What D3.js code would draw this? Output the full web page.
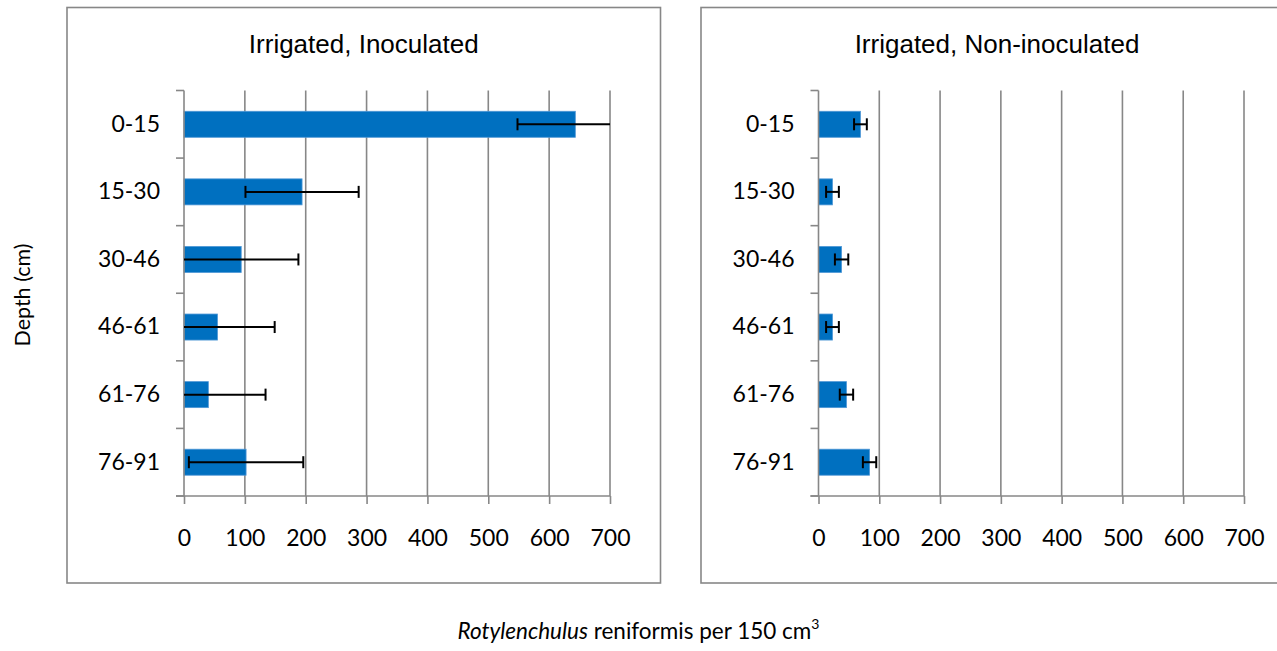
<!DOCTYPE html>
<html>
<head>
<meta charset="utf-8">
<script src="https://cdn.jsdelivr.net/npm/d3@7"></script>
<style>
  html, body { margin: 0; padding: 0; background: #ffffff; }
  svg { display: block; }
  .tick text { font-family: Lato, "Open Sans", sans-serif; font-size: 23px; fill: #000; }
</style>
</head>
<body>
<svg id="chart" width="1277" height="651"></svg>
<script>
// Soil depth classes (cm), top to bottom
const depths = ["0-15", "15-30", "30-46", "46-61", "61-76", "76-91"];

// Irrigated, inoculated plots: mean counts and error half-widths
const inoculatedMeans  = [643, 194, 94, 55, 40, 102];
const inoculatedErrors = [95, 93, 94, 94, 94, 94];

// Irrigated, non-inoculated plots: mean counts and error half-widths
const nonInoculatedMeans  = [69, 23, 38, 23, 46, 84];
const nonInoculatedErrors = [10.5, 10.5, 11, 10.5, 11, 11];

// Count axis
const countTicks = [0, 100, 200, 300, 400, 500, 600, 700];
const countMax = 700;

const panelTitles = ["Irrigated, Inoculated", "Irrigated, Non-inoculated"];

const svg = d3.select("#chart");
const gridColor = "#878787";
const barColor = "#0070C0";

const panels = [
  { title: panelTitles[0], means: inoculatedMeans, errors: inoculatedErrors,
    frame: [67, 7.5, 660.5, 583], plotX: [184, 610] },
  { title: panelTitles[1], means: nonInoculatedMeans, errors: nonInoculatedErrors,
    frame: [701, 7.5, 1293, 583], plotX: [818.5, 1244] }
];
const plotY = [90.5, 496];

panels.forEach(p => {
  const [fx0, fy0, fx1, fy1] = p.frame;
  // panel frame
  svg.append("rect")
    .attr("x", fx0).attr("y", fy0)
    .attr("width", fx1 - fx0).attr("height", fy1 - fy0)
    .attr("fill", "#fff").attr("stroke", gridColor).attr("stroke-width", 1.6);

  const x = d3.scaleLinear().domain([0, countMax]).range(p.plotX);
  const yBand = d3.scaleBand().domain(depths).range(plotY)
    .paddingInner(0.615).paddingOuter(0.3075);
  const step = yBand.step();

  const g = svg.append("g");

  // vertical gridlines
  g.selectAll("line.grid").data(countTicks.filter(t => t > 0)).join("line")
    .attr("class", "grid")
    .attr("x1", d => x(d)).attr("x2", d => x(d))
    .attr("y1", plotY[0]).attr("y2", plotY[1])
    .attr("stroke", gridColor).attr("stroke-width", 1.6);

  // category boundary ticks on the depth axis
  const boundaries = d3.range(depths.length + 1).map(i => plotY[0] + i * step);
  g.selectAll("line.ytick").data(boundaries).join("line")
    .attr("class", "ytick")
    .attr("x1", x(0) - 8).attr("x2", x(0))
    .attr("y1", d => d).attr("y2", d => d)
    .attr("stroke", gridColor).attr("stroke-width", 1.6);

  // bars
  g.selectAll("rect.bar").data(depths).join("rect")
    .attr("class", "bar")
    .attr("x", x(0))
    .attr("y", d => yBand(d))
    .attr("width", (d, i) => x(p.means[i]) - x(0))
    .attr("height", yBand.bandwidth())
    .attr("fill", barColor)
    .attr("stroke", "#4f97d6").attr("stroke-width", 0.8);

  // axis lines
  g.append("line")
    .attr("x1", x(0)).attr("x2", x(0))
    .attr("y1", plotY[0]).attr("y2", plotY[1])
    .attr("stroke", gridColor).attr("stroke-width", 1.6);
  g.append("line")
    .attr("x1", x(0) - 8).attr("x2", x(countMax))
    .attr("y1", plotY[1]).attr("y2", plotY[1])
    .attr("stroke", gridColor).attr("stroke-width", 1.6);

  // count axis ticks and labels
  const xAxis = g.append("g")
    .attr("transform", `translate(0,${plotY[1]})`)
    .call(d3.axisBottom(x).tickValues(countTicks).tickSize(8).tickPadding(26)
      .tickFormat(d3.format("d")));
  xAxis.select(".domain").remove();
  xAxis.selectAll(".tick line").attr("stroke", gridColor).attr("stroke-width", 1.6);

  // depth labels
  const yAxis = g.append("g")
    .attr("transform", `translate(${x(0)},0)`)
    .call(d3.axisLeft(yBand).tickSize(0).tickPadding(24));
  yAxis.select(".domain").remove();

  // error bars (caps only where the end lies inside the axis range)
  const capH = 12;
  depths.forEach((d, i) => {
    const cy = yBand(d) + yBand.bandwidth() / 2;
    const lo = p.means[i] - p.errors[i];
    const hi = p.means[i] + p.errors[i];
    const loC = Math.max(0, lo), hiC = Math.min(countMax, hi);
    g.append("line")
      .attr("x1", x(loC)).attr("x2", x(hiC))
      .attr("y1", cy).attr("y2", cy)
      .attr("stroke", "#000").attr("stroke-width", 2);
    [lo, hi].forEach(v => {
      if (v > 0 && v < countMax) {
        g.append("line")
          .attr("x1", x(v)).attr("x2", x(v))
          .attr("y1", cy - capH / 2).attr("y2", cy + capH / 2)
          .attr("stroke", "#000").attr("stroke-width", 2);
      }
    });
  });

  // panel title, centred on the frame
  svg.append("text")
    .attr("x", (fx0 + fx1) / 2)
    .attr("y", 53)
    .attr("text-anchor", "middle")
    .attr("font-family", "'Liberation Sans', Arial, sans-serif")
    .attr("font-size", 26)
    .text(p.title);
});

// depth axis title
svg.append("text")
  .attr("transform", "translate(30,295) rotate(-90)")
  .attr("text-anchor", "middle")
  .attr("font-family", "Lato, sans-serif")
  .attr("font-size", 21.5)
  .text("Depth (cm)");

// count axis title
const xt = svg.append("text")
  .attr("x", 638.5).attr("y", 639)
  .attr("text-anchor", "middle")
  .attr("font-family", "Lato, sans-serif")
  .attr("font-size", 22.5);
xt.append("tspan").attr("font-style", "italic").text("Rotylenchulus");
xt.append("tspan").text(" reniformis per 150 cm");
xt.append("tspan").attr("font-size", 14).attr("dy", -10).text("3");
</script>
</body>
</html>
